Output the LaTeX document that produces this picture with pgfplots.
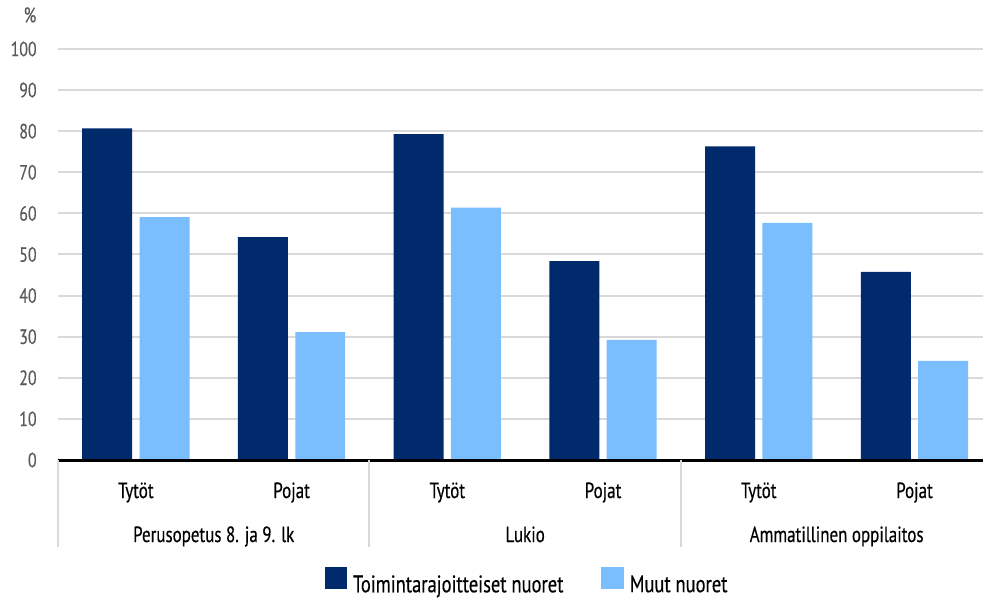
\documentclass[border=0pt]{standalone}
\usepackage{pgfplots}
\pgfplotsset{compat=1.18}
\usepackage{fontspec}
\setmainfont[FakeStretch=0.77, FakeBold=0.4]{PT Sans}
\definecolor{navy}{HTML}{002A6C}
\definecolor{sky}{HTML}{7ABEFF}
\definecolor{gridgray}{HTML}{D9D9D9}
\definecolor{labelgray}{HTML}{595959}

\begin{document}
\fontsize{10.5pt}{12.6pt}\selectfont
\begin{tikzpicture}
\useasboundingbox (-29pt,-69pt) rectangle (462.5pt,230pt);
\begin{axis}[
  scale only axis, width=462.5pt, height=205.5pt,
  xmin=-0.5, xmax=5.44, ymin=0, ymax=100,
  ytick={0,10,...,100},
  xtick={0,...,5},
  xticklabels={Tytöt,Pojat,Tytöt,Pojat,Tytöt,Pojat},
  major tick length=0pt,
  axis line style={draw=none},
  ymajorgrids, grid style={gridgray, line width=1pt},
  /pgf/number format/assume math mode=true,
  yticklabel style={anchor=east, inner sep=0pt, xshift=-10.5pt, text=labelgray,
    font=\fontsize{10.3pt}{12pt}\selectfont},
  xticklabel style={anchor=base, inner sep=0pt, yshift=-19pt, text=black,
    font=\fontsize{11pt}{13pt}\selectfont},
  clip=false,
  legend style={at={(rel axis cs:0.506,0)}, anchor=center, yshift=-60.5pt,
    draw=none, fill=none, legend columns=2, inner sep=0pt,
    font=\fontsize{12pt}{14pt}\selectfont,
    nodes={inner sep=0pt, text=black},
    /tikz/every odd column/.append style={column sep=2.8pt},
    /tikz/every even column/.append style={column sep=19pt}},
  legend image code/.code={\fill[#1] (0pt,-2pt) rectangle (11.4pt,9.4pt);},
]
% Toimintarajoitteiset nuoret
\addplot[ybar, bar width=0.321, bar shift=-0.184, fill=navy, draw=none]
  coordinates {(0,80.7) (1,54.2) (2,79.3) (3,48.4) (4,76.3) (5,45.8)};
\addlegendentry{Toimintarajoitteiset nuoret}
% Muut nuoret
\addplot[ybar, bar width=0.321, bar shift=0.184, fill=sky, draw=none]
  coordinates {(0,59.1) (1,31.1) (2,61.4) (3,29.2) (4,57.7) (5,24.1)};
\addlegendentry{Muut nuoret}

% zero line
\draw[black, line width=1.5pt] (rel axis cs:0,0) -- (rel axis cs:1,0);
% group separators
\draw[gridgray, line width=1pt] (axis cs:-0.5,0) -- ++(0pt,-43.5pt);
\draw[gridgray, line width=1pt] (axis cs:1.5,0) -- ++(0pt,-43.5pt);
\draw[gridgray, line width=1pt] (axis cs:3.5,0) -- ++(0pt,-43.5pt);
% group names
\node[anchor=base, inner sep=0pt, yshift=-41pt, font=\fontsize{11pt}{13pt}\selectfont]
  at (axis cs:0.5,0) {Perusopetus 8. ja 9. lk};
\node[anchor=base, inner sep=0pt, yshift=-41pt, font=\fontsize{11pt}{13pt}\selectfont]
  at (axis cs:2.5,0) {Lukio};
\node[anchor=base, inner sep=0pt, yshift=-41pt, font=\fontsize{11pt}{13pt}\selectfont]
  at (axis cs:4.5,0) {Ammatillinen oppilaitos};
% unit
\node[text=labelgray, inner sep=0pt, xshift=-14pt, yshift=17pt] at (rel axis cs:0,1) {\%};
\end{axis}
\end{tikzpicture}
\end{document}
